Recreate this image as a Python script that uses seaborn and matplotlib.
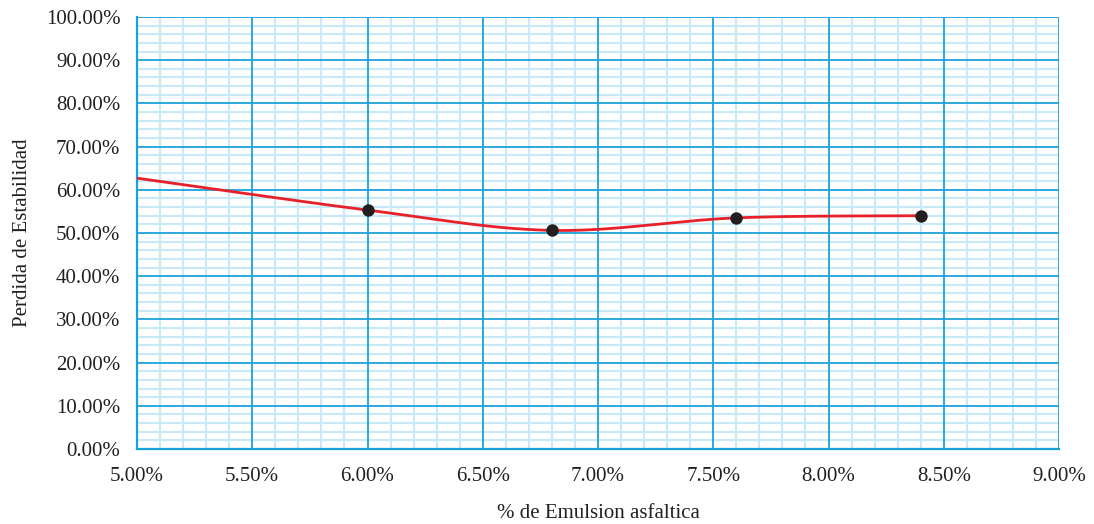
import numpy as np
import pandas as pd
import matplotlib
matplotlib.use("Agg")
import matplotlib.pyplot as plt
from matplotlib.ticker import MultipleLocator, FuncFormatter
import seaborn as sns

# ---- data ----
curve_x = [5.0, 6.0, 6.8, 7.6, 8.4]          # % emulsion (line points)
curve_y = [62.7, 55.3, 50.6, 53.5, 54.0]      # % loss of stability
marker_x = [6.0, 6.8, 7.6, 8.4]
marker_y = [55.3, 50.6, 53.5, 54.0]

sns.set_theme(style="white")
plt.rcParams['font.family'] = ['Liberation Serif', 'DejaVu Serif']

fig = plt.figure(figsize=(10.94, 5.24), dpi=100)
ax = fig.add_axes([137/1094, 1-449/524, (1059-137)/1094, (449-17)/524])

# Excel-like smoothed line (Catmull-Rom Bezier through the data points)
def smooth(xs, ys, n=60):
    P = np.column_stack([xs, ys]).astype(float)
    out = []
    for i in range(len(P)-1):
        p0 = P[i-1] if i > 0 else P[i]
        p1, p2 = P[i], P[i+1]
        p3 = P[i+2] if i+2 < len(P) else P[i+1]
        c1 = p1 + (p2-p0)/6
        c2 = p2 - (p3-p1)/6
        t = np.linspace(0, 1, n)[:, None]
        seg = (1-t)**3*p1 + 3*(1-t)**2*t*c1 + 3*(1-t)*t**2*c2 + t**3*p2
        out.append(seg if i == 0 else seg[1:])
    return np.vstack(out)

sm = smooth(curve_x, curve_y)
df_line = pd.DataFrame({"x": sm[:, 0], "y": sm[:, 1]})
df_pts = pd.DataFrame({"x": marker_x, "y": marker_y})

ax.set_xlim(5.0, 9.0)
ax.set_ylim(0, 100)
ax.xaxis.set_major_locator(MultipleLocator(0.5))
ax.xaxis.set_minor_locator(MultipleLocator(0.1))
ax.yaxis.set_major_locator(MultipleLocator(10))
ax.yaxis.set_minor_locator(MultipleLocator(2))
ax.xaxis.set_major_formatter(FuncFormatter(lambda v, p: f"{v:.2f}%"))
ax.yaxis.set_major_formatter(FuncFormatter(lambda v, p: f"{v:.2f}%"))

# minor grid (light) via axis grid; major grid drawn on top
ax.grid(which="minor", color="#c8e9f8", linewidth=1.5, zorder=0)
ax.grid(which="major", visible=False)
ax.set_axisbelow(True)
major_c = "#1ba1da"
for xv in ax.xaxis.get_majorticklocs():
    ax.axvline(xv, color=major_c, linewidth=1.3, zorder=1.5)
for yv in ax.yaxis.get_majorticklocs():
    ax.axhline(yv, color=major_c, linewidth=1.3, zorder=1.5)

sns.lineplot(data=df_line, x="x", y="y", sort=False, ax=ax, color="#e8202a",
             linewidth=2.0, zorder=4)
sns.scatterplot(data=df_pts, x="x", y="y", ax=ax, color="#231f20", s=80,
                edgecolor="#231f20", linewidth=0, zorder=5)
ax.set_xlim(5.0, 9.0)
ax.set_ylim(0, 100)

for s in ["top", "right"]:
    ax.spines[s].set_visible(False)
for s in ["left", "bottom"]:
    ax.spines[s].set_color(major_c)
    ax.spines[s].set_linewidth(1.6)

ax.tick_params(axis="both", which="both", length=0, labelsize=15, colors="#231f20")
ax.tick_params(axis="x", pad=13)
ax.tick_params(axis="y", pad=12)

ax.set_xlabel("% de Emulsion asfaltica", fontsize=15, color="#231f20", labelpad=13)
ax.set_ylabel("Perdida de Estabilidad", fontsize=15, color="#231f20", labelpad=10)

fig.savefig("out.png", dpi=100, facecolor="white")
